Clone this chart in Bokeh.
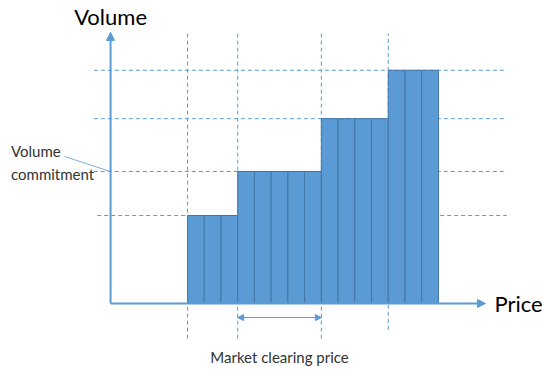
from bokeh.plotting import figure
from bokeh.models import Range1d, Arrow, NormalHead, Label, ColumnDataSource
from bokeh.embed import file_html
from bokeh.resources import INLINE

# Data: bid steps (number of bars per price step and volume level of each step)
step_counts = [3, 5, 4, 3]
step_volumes = [2.0, 3.0, 4.2, 5.3]
clearing_step = 1          # index of the step that spans the market clearing price
commitment_step = 1        # volume level pointed at by "Volume commitment"

axis_title_x = "Price"
axis_title_y = "Volume"
note_commitment = "Volume\ncommitment"
note_clearing = "Market clearing price"

# build bars
lefts, rights, tops = [], [], []
boundaries = [0]
pos = 0
for n, v in zip(step_counts, step_volumes):
    for _ in range(n):
        lefts.append(pos)
        rights.append(pos + 1)
        tops.append(v)
        pos += 1
    boundaries.append(pos)

W, H = 543, 374
p = figure(width=W, height=H, output_backend="svg", toolbar_location=None,
           x_range=Range1d(-11.18, 21.28), y_range=Range1d(-1.614, 6.886),
           x_axis_location=None, y_axis_location=None, min_border=0)
p.outline_line_color = None
p.grid.visible = False
p.background_fill_color = "white"

BLUE = "#5B9BD5"
EDGE = "#4275A6"

x_axis_pos = -4.6
y_top = 6.16
x_right = 17.81

# horizontal dashed guide lines at each volume level
for i, v in enumerate(step_volumes):
    x0 = -5.6 if i > 0 else -5.4
    p.segment(x0=[x0], y0=[v], x1=[19.1], y1=[v], line_color=BLUE,
              line_dash="4 3", line_width=1)

# vertical dashed guide lines at step boundaries (except last)
for i, b in enumerate(boundaries[:-1]):
    y0 = -0.8 if i < 3 else -0.6
    p.segment(x0=[b], y0=[y0], x1=[b], y1=[6.14], line_color=BLUE,
              line_dash="4 3", line_width=1)

# bars
src = ColumnDataSource(dict(left=lefts, right=rights, top=tops, bottom=[0] * len(tops)))
p.quad(left="left", right="right", top="top", bottom="bottom", source=src,
       fill_color=BLUE, line_color=EDGE, line_width=1)

# axes with arrows
p.add_layout(Arrow(x_start=x_axis_pos, y_start=0, x_end=x_axis_pos, y_end=y_top,
                   line_color=BLUE, line_width=2,
                   end=NormalHead(size=8, fill_color=BLUE, line_color=BLUE)))
p.add_layout(Arrow(x_start=x_axis_pos, y_start=0, x_end=x_right, y_end=0,
                   line_color=BLUE, line_width=2,
                   end=NormalHead(size=8, fill_color=BLUE, line_color=BLUE)))

# market clearing double arrow
c0, c1 = boundaries[clearing_step], boundaries[clearing_step + 1]
p.add_layout(Arrow(x_start=c0, y_start=-0.32, x_end=c1, y_end=-0.32,
                   line_color=BLUE, line_width=1,
                   start=NormalHead(size=6, fill_color=BLUE, line_color=BLUE),
                   end=NormalHead(size=6, fill_color=BLUE, line_color=BLUE)))

# leader line for volume commitment
p.segment(x0=[-7.35], y0=[3.34], x1=[x_axis_pos], y1=[step_volumes[commitment_step]],
          line_color="#7FB0DF", line_width=1)

FONT = "Lato"
p.add_layout(Label(x=x_axis_pos, y=6.52, text=axis_title_y, text_font=FONT,
                   text_font_size="22px", text_align="center", text_baseline="middle",
                   text_color="#000000"))
p.add_layout(Label(x=18.35, y=0.0, text=axis_title_x, text_font=FONT,
                   text_font_size="22px", text_align="left", text_baseline="middle",
                   text_color="#000000"))
p.add_layout(Label(x=-10.55, y=3.2, text=note_commitment, text_font=FONT,
                   text_font_size="15px", text_align="left", text_baseline="middle",
                   text_color="#333333", text_line_height=1.3))
p.add_layout(Label(x=(c0 + c1) / 2, y=-1.22, text=note_clearing, text_font=FONT,
                   text_font_size="15px", text_align="center", text_baseline="middle",
                   text_color="#333333"))

open("out.html", "w").write(file_html(p, INLINE))
